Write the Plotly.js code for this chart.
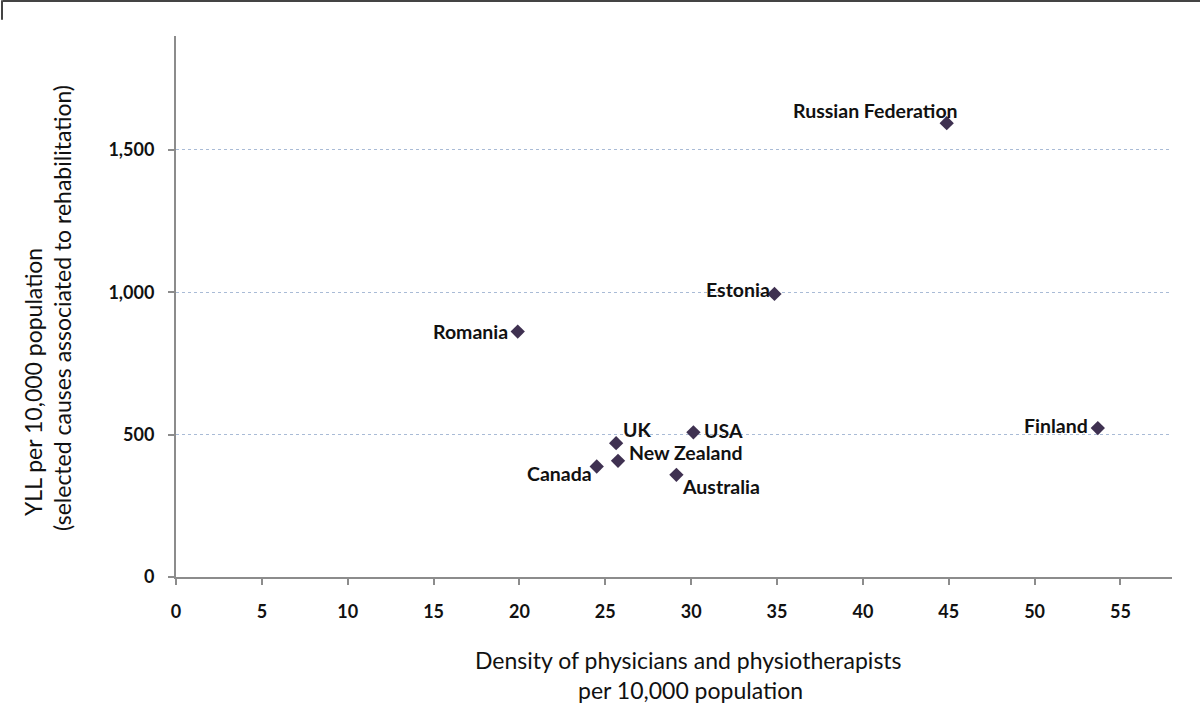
<!DOCTYPE html>
<html>
<head>
<meta charset="utf-8">
<script src="https://cdn.plot.ly/plotly-3.0.1.min.js"></script>
<style>html,body{margin:0;padding:0;background:#fff;}#chart{width:1200px;height:725px;}</style>
</head>
<body>
<div id="chart"></div>
<script>
const countries = ["Romania","Estonia","UK","USA","New Zealand","Canada","Australia","Russian Federation","Finland"];
const density = [19.9, 34.85, 25.63, 30.13, 25.74, 24.5, 29.14, 44.88, 53.68];
const yll = [862, 994, 470, 508, 408, 388, 359, 1594, 523];
const xTitleLines = ["Density of physicians and physiotherapists", "per 10,000 population"];
const yTitleLines = ["YLL per 10,000 population", "(selected causes associated to rehabilitation)"];
// label placement per country (style only)
const labelAnchor = ["right","right","left","left","left","right","left","right","right"];
const labelDx = [-8, -2, 5, 9, 9, -3, 4, 13, -8];
const labelDy = [0, 4, 14, 2, 8, -7, -12, 13, 3];

const font = "Lato, 'Open Sans', sans-serif";

const trace = {
  type: "scatter", mode: "markers",
  x: density, y: yll,
  marker: {symbol: "diamond", size: 11, color: "#3f3151"},
  hoverinfo: "x+y"
};

const annotations = countries.map((c, i) => ({
  x: density[i], y: yll[i], xref: "x", yref: "y",
  text: "<b>" + c + "</b>", showarrow: false,
  xanchor: labelAnchor[i], yanchor: "middle",
  xshift: labelDx[i], yshift: labelDy[i],
  font: {family: font, size: 19.5, color: "#111"}
}));

// axis titles as annotations (paper coords relative to plot area)
const plotL = 176, plotW = 996, plotT = 36, plotH = 541;
const px = v => (v - plotL) / plotW;
const py = v => (plotT + plotH - v) / plotH;
annotations.push(
  {xref: "paper", yref: "paper", x: px(688), y: py(660), text: xTitleLines[0], showarrow: false,
   xanchor: "center", yanchor: "middle", font: {family: font, size: 23, color: "#111"}},
  {xref: "paper", yref: "paper", x: px(690), y: py(690), text: xTitleLines[1], showarrow: false,
   xanchor: "center", yanchor: "middle", font: {family: font, size: 23, color: "#111"}},
  {xref: "paper", yref: "paper", x: px(33), y: py(382), text: yTitleLines[0], showarrow: false, textangle: -90,
   xanchor: "center", yanchor: "middle", font: {family: font, size: 23, color: "#111"}},
  {xref: "paper", yref: "paper", x: px(62), y: py(308), text: yTitleLines[1], showarrow: false, textangle: -90,
   xanchor: "center", yanchor: "middle", font: {family: font, size: 23, color: "#111"}}
);

const layout = {
  width: 1200, height: 725,
  margin: {l: plotL, r: 28, t: plotT, b: 148},
  paper_bgcolor: "#fff", plot_bgcolor: "#fff",
  showlegend: false,
  font: {family: font, color: "#111"},
  xaxis: {
    range: [0, 58], tickmode: "linear", tick0: 0, dtick: 5,
    showgrid: false, zeroline: false,
    showline: true, linecolor: "#8c8c8c", linewidth: 2,
    ticks: "outside", ticklen: 6, tickwidth: 2, tickcolor: "#8c8c8c",
    ticklabelstandoff: 11,
    tickfont: {family: font, size: 18, color: "#111", weight: "bold"}
  },
  yaxis: {
    range: [0, 1900], tickmode: "array", tickvals: [0, 500, 1000, 1500],
    ticktext: ["0", "500", "1,000", "1,500"],
    showgrid: true, gridcolor: "#a9bbd6", gridwidth: 1, griddash: "dot",
    zeroline: false,
    showline: true, linecolor: "#8c8c8c", linewidth: 2,
    ticks: "outside", ticklen: 6, tickwidth: 2, tickcolor: "#8c8c8c",
    ticklabelstandoff: 10,
    tickfont: {family: font, size: 18, color: "#111", weight: "bold"}
  },
  annotations: annotations,
  shapes: [
    {type: "line", xref: "paper", yref: "paper", x0: -0.174, x1: 1.03, y0: 1.0647, y1: 1.0647,
     line: {color: "#444", width: 2}},
    {type: "line", xref: "paper", yref: "paper", x0: -0.1747, x1: -0.1747, y0: 1.066, y1: 1.03,
     line: {color: "#444", width: 2}}
  ]
};

Plotly.newPlot("chart", [trace], layout, {displayModeBar: false, staticPlot: true});
</script>
</body>
</html>
